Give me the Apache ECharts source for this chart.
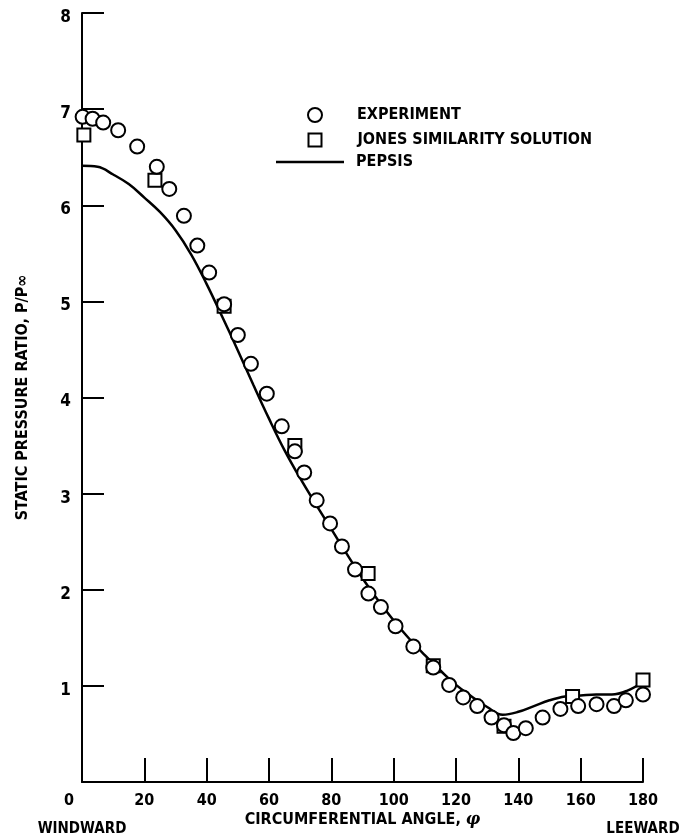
<!DOCTYPE html>
<html><head><meta charset="utf-8">
<script src="https://cdn.jsdelivr.net/npm/echarts@6/dist/echarts.min.js"></script>
<style>html,body{margin:0;padding:0;background:#fff}#c{width:696px;height:839px}</style>
</head><body><div id="c"></div>
<script>
const FONT = "'DejaVu Sans Condensed','Liberation Sans Narrow',sans-serif";

const xMin = 0, xMax = 180, xStep = 20;
const yMin = 0, yMax = 8, yStep = 1;

const expAngle = [0.2, 3.4, 6.8, 11.6, 17.7, 24.0, 28.0, 32.7, 37.0, 40.8, 45.6, 50.0, 54.2, 59.3, 64.1, 68.3, 71.3, 75.3, 79.6, 83.4, 87.6, 91.9, 95.9, 100.6, 106.3, 112.7, 117.8, 122.3, 126.8, 131.4, 135.4, 138.4, 142.4, 147.8, 153.5, 159.2, 165.1, 170.7, 174.5, 180];
const expRatio = [6.92, 6.90, 6.86, 6.78, 6.61, 6.40, 6.17, 5.89, 5.58, 5.30, 4.97, 4.65, 4.35, 4.04, 3.70, 3.44, 3.22, 2.93, 2.69, 2.45, 2.21, 1.96, 1.82, 1.62, 1.41, 1.19, 1.01, 0.88, 0.79, 0.67, 0.59, 0.51, 0.56, 0.67, 0.76, 0.79, 0.81, 0.79, 0.85, 0.91];

const jonesAngle = [0.6, 23.4, 45.6, 68.3, 91.8, 112.7, 135.4, 157.4, 180];
const jonesRatio = [6.73, 6.26, 4.95, 3.50, 2.17, 1.21, 0.58, 0.89, 1.06];

const pepsisAngle = [0, 5, 10, 15, 20, 25, 30, 35, 40, 45, 50, 55, 60, 65, 70, 75, 80, 85, 90, 95, 100, 105, 110, 115, 120, 125, 130, 135, 140, 145, 150, 155, 160, 165, 170, 175, 180];
const pepsisRatio = [6.41, 6.40, 6.32, 6.22, 6.08, 5.93, 5.74, 5.49, 5.18, 4.84, 4.49, 4.13, 3.78, 3.45, 3.16, 2.89, 2.63, 2.37, 2.12, 1.89, 1.68, 1.49, 1.32, 1.16, 1.01, 0.89, 0.78, 0.70, 0.73, 0.79, 0.85, 0.89, 0.90, 0.91, 0.91, 0.95, 1.04];

const seriesNames = ['EXPERIMENT', 'JONES SIMILARITY SOLUTION', 'PEPSIS'];
const xTitle = 'CIRCUMFERENTIAL ANGLE, ';
const xTitleSym = 'φ';
const yTitle = 'STATIC PRESSURE RATIO, P/P∞';
const leftEndLabel = 'WINDWARD';
const rightEndLabel = 'LEEWARD';

const zip = (a, b) => a.map((v, i) => [v, b[i]]);

const chart = echarts.init(document.getElementById('c'), null, {renderer: 'canvas'});
const legendText = {fontFamily: FONT, fontWeight: 'bold', fontSize: 16, color: '#000'};

chart.setOption({
  backgroundColor: '#fff',
  animation: false,
  grid: {left: 82, right: 53, top: 13, bottom: 57, containLabel: false},
  legend: [
    {data: [seriesNames[0]], left: 302, top: 102, itemWidth: 14, itemHeight: 14,
     textStyle: Object.assign({padding: [0, 0, 0, 30]}, legendText)},
    {data: [seriesNames[1]], left: 302.5, top: 127, itemWidth: 13, itemHeight: 13,
     textStyle: Object.assign({padding: [0, 0, 0, 31]}, legendText)},
    {data: [{name: seriesNames[2], icon: 'rect'}], left: 271, top: 149, itemWidth: 68, itemHeight: 2.5,
     textStyle: Object.assign({padding: [0, 0, 0, 7]}, legendText)}
  ],
  xAxis: {
    type: 'value', min: xMin, max: xMax, interval: xStep,
    name: xTitle + '{p|' + xTitleSym + '}',
    nameLocation: 'middle', nameGap: 30, nameMoveOverlap: false,
    nameTextStyle: {fontFamily: FONT, fontWeight: 'bold', fontSize: 16, color: '#000',
      rich: {p: {fontFamily: 'DejaVu Serif', fontStyle: 'italic', fontWeight: 'bold', fontSize: 16, color: '#000'}}},
    axisLine: {lineStyle: {color: '#000', width: 2}},
    axisTick: {inside: true, length: 24, lineStyle: {color: '#000', width: 2}},
    splitLine: {show: false},
    axisLabel: {
      margin: 10, color: '#000', fontFamily: FONT, fontWeight: 'bold', fontSize: 16,
      formatter: function (v) {
        if (v === xMin) return '{z|' + v + '}\n{e|' + leftEndLabel + '}';
        if (v === xMax) return '{n|' + v + '}\n{e|' + rightEndLabel + '}';
        return '{n|' + v + '}';
      },
      rich: {
        n: {fontFamily: FONT, fontWeight: 'bold', fontSize: 16, lineHeight: 18, color: '#000'},
        z: {fontFamily: FONT, fontWeight: 'bold', fontSize: 16, lineHeight: 18, color: '#000', padding: [0, 26, 0, 0]},
        e: {fontFamily: FONT, fontWeight: 'bold', fontSize: 15, lineHeight: 38, color: '#000'}
      }
    }
  },
  yAxis: {
    type: 'value', min: yMin, max: yMax, interval: yStep,
    name: yTitle, nameLocation: 'middle', nameGap: 51, nameRotate: 90, nameMoveOverlap: false,
    nameTextStyle: {fontFamily: FONT, fontWeight: 'bold', fontSize: 16, color: '#000'},
    axisLine: {show: true, lineStyle: {color: '#000', width: 2}},
    axisTick: {show: true, inside: true, length: 22, lineStyle: {color: '#000', width: 2}},
    splitLine: {show: false},
    axisLabel: {
      margin: 11, color: '#000', fontFamily: FONT, fontWeight: 'bold', fontSize: 17,
      verticalAlign: 'top', lineHeight: 9,
      formatter: function (v) { return v === yMin ? '' : String(v); }
    }
  },
  series: [
    {name: seriesNames[2], type: 'line', data: zip(pepsisAngle, pepsisRatio), smooth: 0.4,
     symbol: 'none', lineStyle: {color: '#000', width: 2.5}, itemStyle: {color: '#000'}, z: 1},
    {name: seriesNames[1], type: 'scatter', data: zip(jonesAngle, jonesRatio), symbol: 'rect', symbolSize: 13,
     itemStyle: {color: '#fff', borderColor: '#000', borderWidth: 2, opacity: 1}, z: 2},
    {name: seriesNames[0], type: 'scatter', data: zip(expAngle, expRatio), symbol: 'circle', symbolSize: 14,
     itemStyle: {color: '#fff', borderColor: '#000', borderWidth: 2, opacity: 1}, z: 3}
  ]
});
</script>
</body></html>
